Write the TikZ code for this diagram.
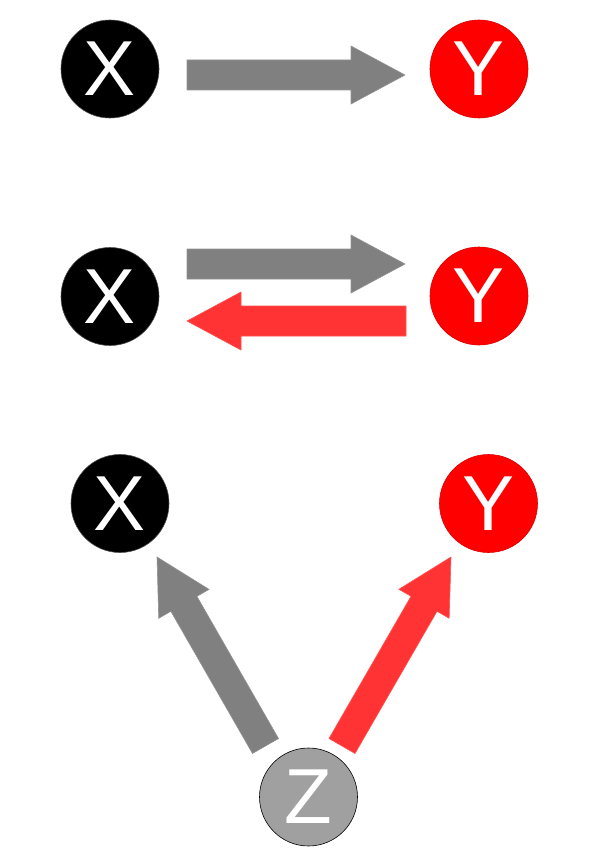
\documentclass[tikz,border=0pt]{standalone}
\usepackage{fontspec}
\setmainfont{Liberation Sans}
\usetikzlibrary{calc}
\definecolor{arrgray}{RGB}{128,128,128}
\definecolor{arrred}{RGB}{255,51,51}
\definecolor{ycol}{RGB}{255,0,0}
\definecolor{zcol}{RGB}{160,160,160}
\newcommand\blockarrow[3]{%
  \coordinate (hb) at ($(#2)!54pt!(#1)$);
  \fill[#3, draw=#3!85!white, line width=0.6pt]
    ($(#1)!15pt!90:(#2)$) -- ($(hb)!15pt!-90:(#1)$) -- ($(hb)!29pt!-90:(#1)$)
    -- (#2) -- ($(hb)!29pt!90:(#1)$) -- ($(hb)!15pt!90:(#1)$)
    -- ($(#1)!15pt!-90:(#2)$) -- cycle;}
\begin{document}
\begin{tikzpicture}[x=1pt,y=-1pt,
  ball/.style={circle, minimum size=98pt, inner sep=0pt, text=white,
    font=\fontsize{78}{78}\selectfont, line width=0.6pt}]
\useasboundingbox (0,0) rectangle (593,864);
% row 1
\node[ball, fill=black, draw=black!70] (x1) at (110,69) {X};
\node[ball, fill=ycol, draw=ycol!85!black] (y1) at (479,69) {Y};
\coordinate (a1s) at (187,75);
\coordinate (a1e) at (405,75);
\blockarrow{a1s}{a1e}{arrgray}
% row 2
\node[ball, fill=black, draw=black!70] (x2) at (110,296.5) {X};
\node[ball, fill=ycol, draw=ycol!85!black] (y2) at (479,296) {Y};
\coordinate (a2s) at (187,264);
\coordinate (a2e) at (405,264);
\blockarrow{a2s}{a2e}{arrgray}
\coordinate (b2s) at (406,321);
\coordinate (b2e) at (187,321);
\blockarrow{b2s}{b2e}{arrred}
% row 3
\node[ball, fill=black, draw=black!70] (x3) at (120,503.5) {X};
\node[ball, fill=ycol, draw=ycol!85!black] (y3) at (488.5,503.5) {Y};
\node[ball, fill=zcol, draw=black] (z3) at (308.5,797) {Z};
\coordinate (c3s) at (265.5,746);
\coordinate (c3e) at (157,557);
\blockarrow{c3s}{c3e}{arrgray}
\coordinate (d3s) at (342,746);
\coordinate (d3e) at (451,557);
\blockarrow{d3s}{d3e}{arrred}
\end{tikzpicture}
\end{document}
